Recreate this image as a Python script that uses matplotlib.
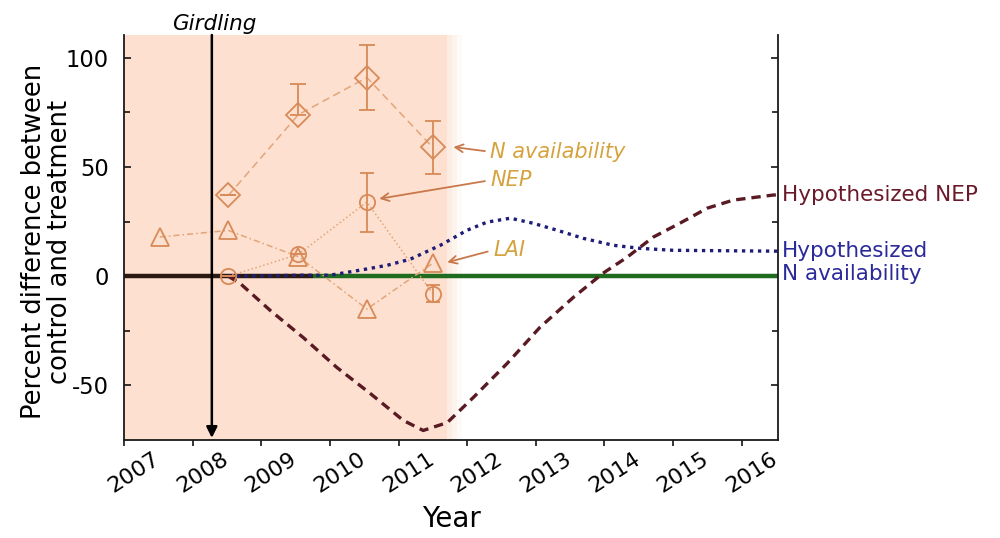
import matplotlib
matplotlib.use("Agg")
import matplotlib.pyplot as plt
from matplotlib.transforms import ScaledTranslation

# ---- data -------------------------------------------------------------
year_ticks = [2007, 2008, 2009, 2010, 2011, 2012, 2013, 2014, 2015, 2016]

obs_years = [2008.52, 2009.54, 2010.54, 2011.50]
n_avail = [37, 74, 91, 59]
n_avail_err_low = [0, 0, 15, 12]
n_avail_err_high = [0, 14, 15, 12]

nep_obs = [0, 10, 34, -8]
nep_obs_err = [0, 0, 13.5, 4]

lai_years = [2007.52, 2008.52, 2009.54, 2010.54, 2011.50]
lai = [18, 21, 9, -15, 6]

hyp_nep_years = [2008.52, 2008.69, 2009.13, 2009.61, 2010.10, 2010.59, 2011.07,
                 2011.36, 2011.71, 2012.09, 2012.58, 2013.06, 2013.55, 2013.98,
                 2014.33, 2014.71, 2015.10, 2015.50, 2015.88, 2016.46, 2016.53]
hyp_nep = [0, -3.2, -15.6, -28, -41.7, -53.7, -66, -70.6, -67, -55.5, -40,
           -23.4, -9.6, 1.4, 8.7, 17.9, 24.3, 31.2, 34.9, 37.2, 37.3]

hyp_n_years = [2008.52, 2009.57, 2010.00, 2010.44, 2010.83, 2011.17, 2011.61,
               2012.00, 2012.29, 2012.63, 2012.96, 2013.31, 2013.69, 2014.13,
               2014.52, 2015.00, 2016.53]
hyp_n = [0, 0.5, 0.5, 2.8, 5, 7.8, 14.2, 21.1, 24.8, 26.6, 24.3, 21.1, 17.4,
         14.2, 12.8, 11.9, 11.5]

girdling_year = 2008.28
treatment_end = 2011.71
x_min, x_max = 2007.0, 2016.53
y_min, y_max = -75, 110.5

# ---- styling ----------------------------------------------------------
plt.rcParams["font.family"] = ["DejaVu Sans"]
shade = "#fde0d0"
mk = "#d88a58"
mk_line = "#e2a57a"
lab_gold = "#d6a23e"
arrow_c = "#c8784a"

fig = plt.figure(figsize=(10, 5.38), dpi=100)
ax = fig.add_axes([0.124, 0.182, 0.654, 0.753])
ax.set_xlim(x_min, x_max)
ax.set_ylim(y_min, y_max)

# treatment period shading with a soft right edge
ax.axvspan(x_min, treatment_end, color=shade, lw=0, zorder=0)
for i, a in enumerate([0.6, 0.35, 0.15]):
    ax.axvspan(treatment_end + i * 0.07, treatment_end + (i + 1) * 0.07,
               color=shade, alpha=a, lw=0, zorder=0)

# baseline: pre-treatment black, control green
ax.plot([x_min, 2009.75], [0, 0], color="#2b1a12", lw=3.2, zorder=2,
        solid_capstyle="butt")
ax.plot([2009.75, x_max], [0, 0], color="#1f6b1f", lw=3.2, zorder=2,
        solid_capstyle="butt")

# hypothesized curves
ax.plot(hyp_n_years, hyp_n, color="#1e1e78", lw=2.4, dashes=(1.0, 1.4),
        zorder=3)
ax.plot(hyp_nep_years, hyp_nep, color="#5a1a24", lw=2.4, dashes=(2.8, 1.8),
        zorder=3)

# observations
ax.plot(obs_years, n_avail, color=mk_line, lw=1.1, dashes=(5, 3), zorder=4)
ax.errorbar(obs_years, n_avail, yerr=[n_avail_err_low, n_avail_err_high],
            fmt="D", ms=12, mfc="none", mec=mk, mew=1.3, ecolor=mk,
            elinewidth=1.3, capsize=6, zorder=5)
ax.plot(obs_years, nep_obs, color=mk_line, lw=1.1, ls=":", zorder=4)
ax.errorbar(obs_years, nep_obs, yerr=nep_obs_err, fmt="o", ms=11, mfc="none",
            mec=mk, mew=1.3, ecolor=mk, elinewidth=1.3, capsize=5, zorder=5)
ax.plot(lai_years, lai, color=mk_line, lw=1.1, dashes=(4, 2, 1, 2), zorder=4)
ax.plot(lai_years, lai, "^", ms=13, mfc="none", mec=mk, mew=1.3, zorder=5)

# girdling arrow
ax.annotate("", xy=(girdling_year, y_min + 1), xytext=(girdling_year, y_max),
            arrowprops=dict(arrowstyle="-|>", color="black", lw=1.8,
                            mutation_scale=16, shrinkA=0, shrinkB=0),
            zorder=6)
fig.text(0.214, 1 - 24 / 538, "Girdling", ha="center", va="center",
         style="italic", fontsize=15.5)

# labels on the observed series
for txt, tip, pos in [("N availability", (2011.80, 59.2), (2012.34, 57)),
                      ("NEP", (2010.72, 35.5), (2012.34, 44)),
                      ("LAI", (2011.71, 6.4), (2012.38, 12))]:
    ax.annotate(txt, xy=tip, xytext=pos, ha="left", va="center",
                color=lab_gold, style="italic", fontsize=15,
                arrowprops=dict(arrowstyle="->", color=arrow_c, lw=1.3,
                                shrinkA=2, shrinkB=0, relpos=(0, 0.5),
                                mutation_scale=14),
                zorder=7)

# labels for the hypothesized curves
ax.annotate("Hypothesized NEP", xy=(1, 37.2), xycoords=("axes fraction", "data"),
            xytext=(4, 0), textcoords="offset pixels", ha="left", va="center",
            color="#6a1a2a", fontsize=15.5, annotation_clip=False)
ax.annotate("Hypothesized\nN availability", xy=(1, 6.4),
            xycoords=("axes fraction", "data"), xytext=(4, 0),
            textcoords="offset pixels", ha="left", va="center",
            color="#2a2a9a", fontsize=15.5, linespacing=1.15,
            annotation_clip=False)

# axes, ticks
ax.spines["top"].set_visible(False)
for s in ["left", "right", "bottom"]:
    ax.spines[s].set_linewidth(1.3)
    ax.spines[s].set_color("#1a1a1a")

ax.set_yticks([-50, 0, 50, 100])
ax.set_yticklabels(["-50", "0", "50", "100"])
ax.set_yticks([-25, 25, 75], minor=True)
ax.tick_params(axis="y", which="both", direction="in", left=True, right=True,
               labelsize=16.3, pad=11, length=5, width=1.1)
ax.tick_params(axis="y", which="minor", length=4)

ax.set_xticks(year_ticks)
ax.set_xticklabels([str(y) for y in year_ticks], rotation=33, ha="center")
ax.tick_params(axis="x", direction="out", length=4, width=1.1,
               labelsize=16, pad=2)
shift = ScaledTranslation(0.1, 0, fig.dpi_scale_trans)
for lbl in ax.get_xticklabels():
    lbl.set_transform(lbl.get_transform() + shift)

ax.set_ylabel("Percent difference between\ncontrol and treatment",
              fontsize=18.5, linespacing=1.0)
ax.yaxis.set_label_coords(-0.078, 0.49)
ax.set_xlabel("Year", fontsize=20)
ax.xaxis.set_label_coords(0.5, -0.16)

fig.savefig("out.png", dpi=100)
